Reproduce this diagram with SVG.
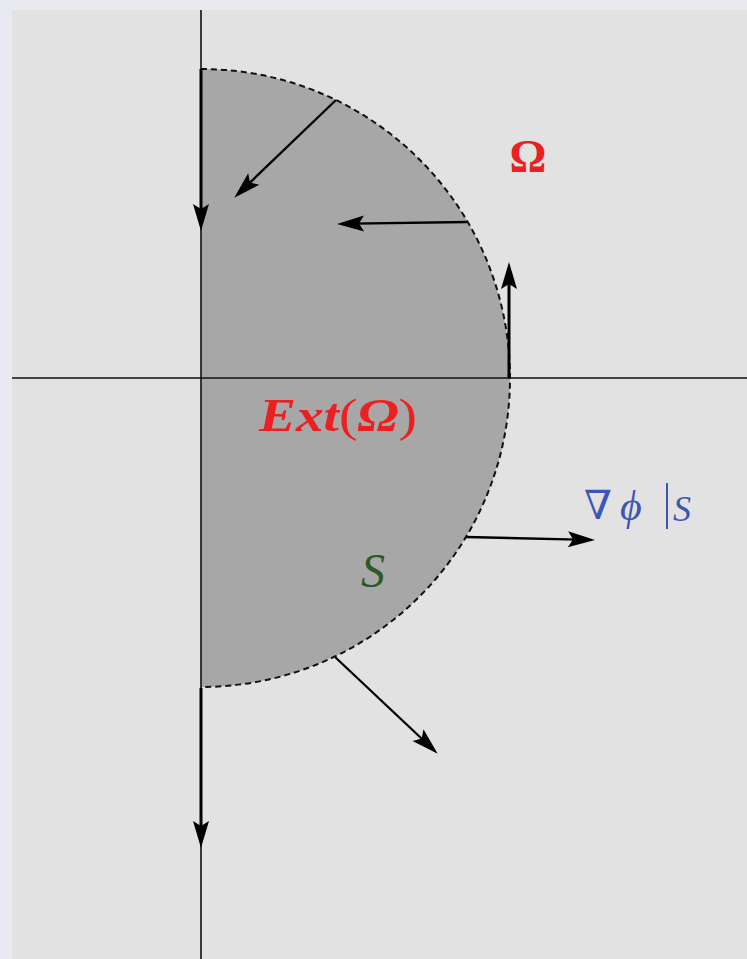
<svg xmlns="http://www.w3.org/2000/svg" width="747" height="959" viewBox="0 0 747 959">
<style>
.ax{stroke:#111;stroke-width:1.6;fill:none}
.ar{stroke:#000;stroke-width:2.3;fill:none;marker-end:url(#ah)}
.arv{stroke:#000;stroke-width:3;fill:none;marker-end:url(#ah)}
.lbl{font-family:"Liberation Serif","Times New Roman",serif}
</style>
<defs>
<marker id="ah" markerUnits="userSpaceOnUse" orient="auto" viewBox="-12 -10 32 20" refX="0" refY="0" markerWidth="32" markerHeight="20">
<path d="M17,0 L-10,-8 L-5,0 L-10,8 Z" fill="#000"/>
</marker>
</defs>
<rect x="0" y="0" width="747" height="959" fill="#e9e9f2"/>
<rect x="12" y="10" width="735" height="949" fill="#e1e2e1"/>
<g id="region">
<path d="M201,69 A309,309 0 0 1 201,687 Z" fill="#a7a7a7"/>
<path d="M201,69 A309,309 0 0 1 201,687" fill="none" stroke="#111" stroke-width="2" stroke-dasharray="6,4"/>
</g>
<g id="axes">
<line class="ax" x1="201" y1="10" x2="201" y2="959"/>
<line class="ax" x1="12" y1="378" x2="747" y2="378"/>
</g>
<g id="connectors">
<line class="arv" x1="201" y1="69" x2="201" y2="214"/>
<line class="ar" x1="336" y1="100" x2="246.5" y2="185.9"/>
<line class="ar" x1="467" y1="222" x2="354" y2="223.7"/>
<line class="arv" x1="509" y1="378" x2="509" y2="279"/>
<line class="ar" x1="466" y1="537" x2="578" y2="539.6"/>
<line class="ar" x1="335" y1="657" x2="425.3" y2="742"/>
<line class="arv" x1="201" y1="688" x2="201" y2="831"/>
</g>
<g id="label-omega">
<text class="lbl" x="528" y="172" font-size="46" font-weight="bold" fill="#ec2020" text-anchor="middle">Ω</text>
</g>
<g id="label-ext">
<text class="lbl" x="259" y="431" font-size="46" fill="#ec2020" textLength="158" lengthAdjust="spacingAndGlyphs"><tspan font-weight="bold" font-style="italic">Ext</tspan><tspan>(</tspan><tspan font-style="italic" font-weight="bold">Ω</tspan><tspan>)</tspan></text>
</g>
<g id="label-s">
<text class="lbl" x="361" y="587" font-size="48" font-style="italic" fill="#2c5a27">S</text>
</g>
<g id="label-grad">
<text x="584" y="519" font-family="DejaVu Serif, serif" font-size="40" fill="#3d55b5">∇</text>
<text class="lbl" x="620" y="520" font-size="42" font-style="italic" fill="#3d55b5">ϕ</text>
<line x1="667" y1="483" x2="667" y2="529" stroke="#3d55b5" stroke-width="2"/>
<text class="lbl" x="673" y="521" font-size="36" font-style="italic" fill="#3d55b5">S</text>
</g>
</svg>
